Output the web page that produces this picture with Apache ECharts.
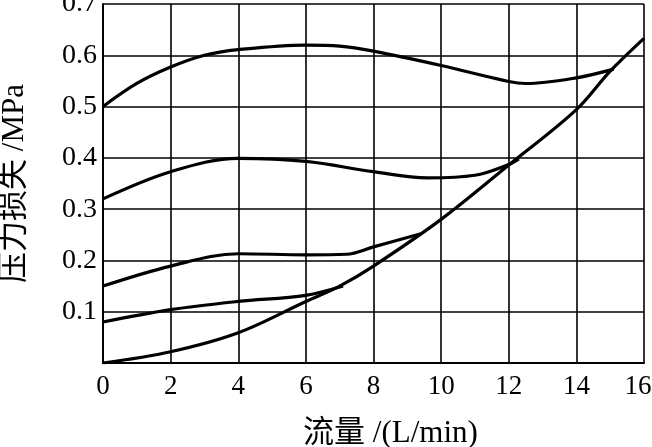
<!DOCTYPE html>
<html><head><meta charset="utf-8">
<script src="https://cdn.jsdelivr.net/npm/echarts@6/dist/echarts.min.js"></script>
<style>html,body{margin:0;padding:0;background:#fff}#c{width:652px;height:447px}</style>
</head><body><div id="c"></div>
<script>
// Curve data (flow L/min, pressure loss MPa)
const c1x = [0, 1, 2, 3, 4, 6, 7, 8, 10, 12, 12.5, 14, 15.1];
const c1y = [0.5, 0.545, 0.577, 0.6, 0.611, 0.62, 0.618, 0.608, 0.58, 0.549, 0.545, 0.556, 0.573];
const c2x = [0, 2, 4, 6, 8, 9.6, 11, 12, 12.3];
const c2y = [0.32, 0.373, 0.399, 0.393, 0.373, 0.361, 0.366, 0.387, 0.398];
const c3x = [0, 2, 4, 6, 7.2, 8, 9.4];
const c3y = [0.15, 0.189, 0.213, 0.211, 0.212, 0.2265, 0.252];
const c4x = [0, 2, 4, 6, 7.1];
const c4y = [0.08, 0.104, 0.12, 0.132, 0.15];
const c5x = [0, 2, 4, 6, 7, 8, 10, 12, 14, 15, 16];
const c5y = [0, 0.022, 0.059, 0.12, 0.15, 0.189, 0.28, 0.386, 0.494, 0.569, 0.633];
const xTicks = [0, 2, 4, 6, 8, 10, 12, 14, 16];
const yTicks = [0.1, 0.2, 0.3, 0.4, 0.5, 0.6, 0.7];
const xName = '流量 /(L/min)';
const yName = '压力损失 /MPa';

const font = '"Liberation Serif","Noto Sans CJK SC",serif';
function pairs(xs, ys) { return xs.map((x, i) => [x, ys[i]]); }
const curves = [[c1x, c1y], [c2x, c2y], [c3x, c3y], [c4x, c4y], [c5x, c5y]];

const chart = echarts.init(document.getElementById('c'));
chart.setOption({
  animation: false,
  backgroundColor: '#fff',
  grid: { left: 103, right: 8, top: 4, bottom: 84, outerBoundsMode: 'none', containLabel: false },
  xAxis: {
    type: 'value', min: 0, max: 16, interval: 2,
    name: xName, nameLocation: 'middle', nameGap: 55,
    nameTextStyle: { fontFamily: font, fontSize: 31, color: '#000', padding: [0, 0, 0, 34] },
    axisLine: { show: true, lineStyle: { color: '#000', width: 2 } },
    axisTick: { show: false },
    axisLabel: { fontFamily: font, fontSize: 27, color: '#000', margin: 10,
      formatter: v => {
        if (!xTicks.includes(v)) return '';
        return v === xTicks[xTicks.length - 1] ? '{r|' + v + '}' : String(v);
      },
      rich: { r: { fontFamily: font, fontSize: 27, color: '#000', padding: [0, 12, 0, 0] } } },
    splitLine: { show: true, lineStyle: { color: '#000', width: 1.6 } }
  },
  yAxis: {
    type: 'value', min: 0, max: 0.7, interval: 0.1,
    name: yName, nameLocation: 'middle', nameGap: 73,
    nameTextStyle: { fontFamily: font, fontSize: 31, color: '#000' },
    axisLine: { show: true, lineStyle: { color: '#000', width: 2 } },
    axisTick: { show: false },
    axisLabel: { fontFamily: font, fontSize: 28, color: '#000', margin: 6,
      formatter: v => { const t = yTicks.find(y => Math.abs(y - v) < 1e-6); return t ? t.toFixed(1) : ''; } },
    splitLine: { show: true, lineStyle: { color: '#000', width: 1.6 } }
  },
  series: curves.map(c => ({
    type: 'line', data: pairs(c[0], c[1]), smooth: 0.35, showSymbol: false, symbol: 'none',
    lineStyle: { color: '#000', width: 3.2 }, z: 5
  }))
});
</script></body></html>
